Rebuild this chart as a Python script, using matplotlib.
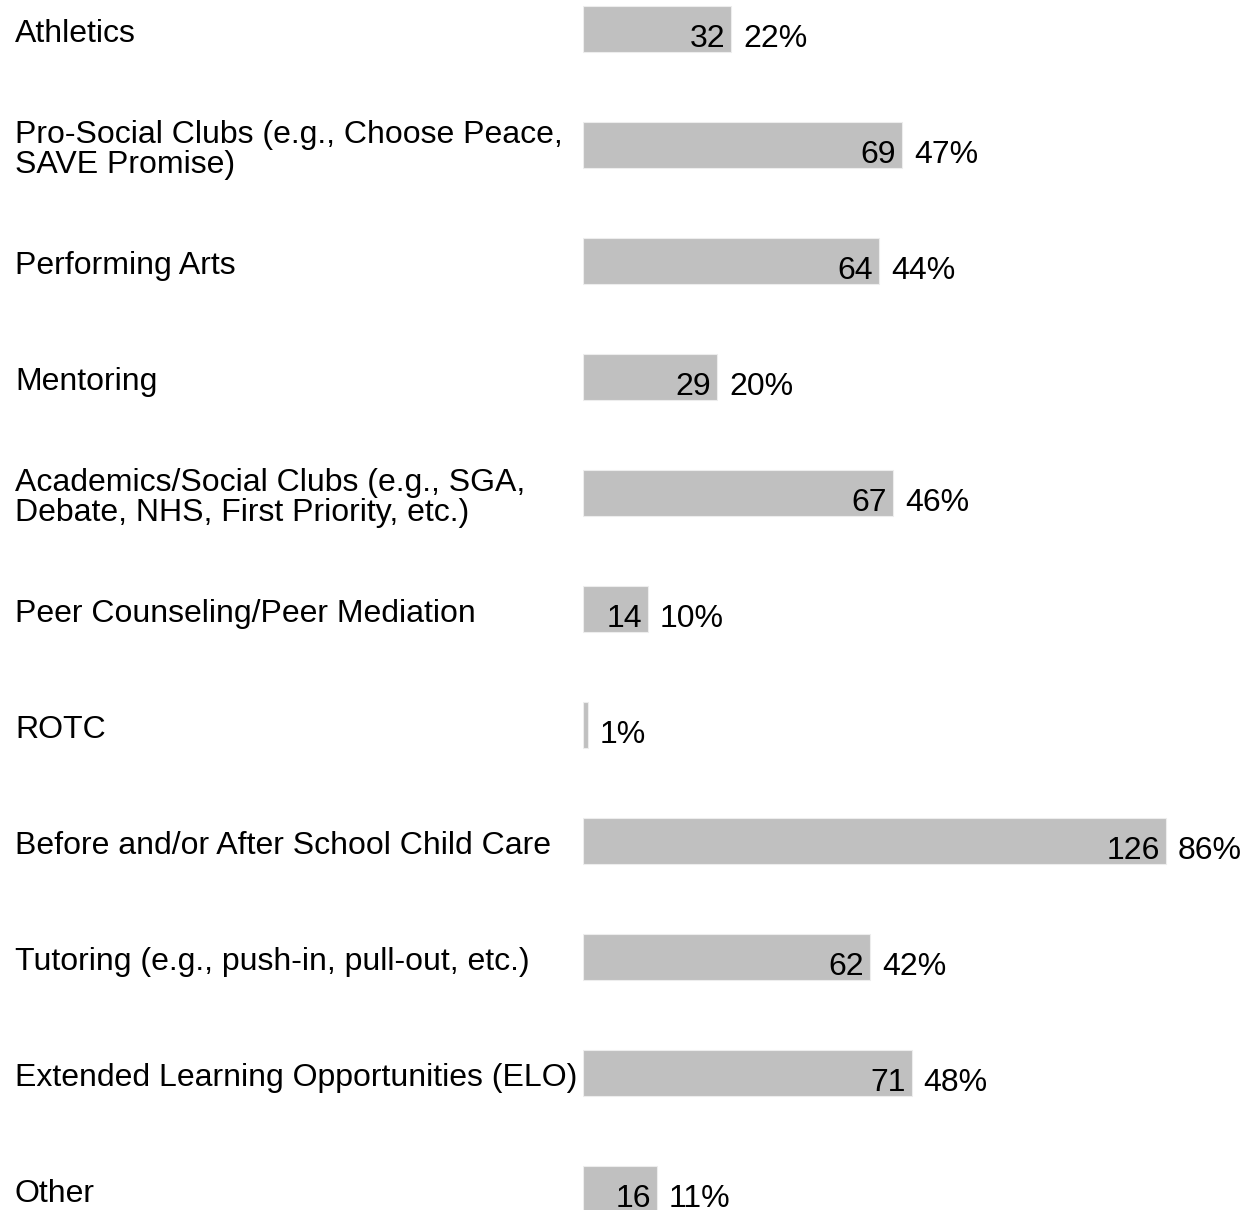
import matplotlib
matplotlib.use("Agg")
import matplotlib.pyplot as plt
from matplotlib.transforms import blended_transform_factory

categories = [
    "Athletics",
    "Pro-Social Clubs (e.g., Choose Peace,\nSAVE Promise)",
    "Performing Arts",
    "Mentoring",
    "Academics/Social Clubs (e.g., SGA,\nDebate, NHS, First Priority, etc.)",
    "Peer Counseling/Peer Mediation",
    "ROTC",
    "Before and/or After School Child Care",
    "Tutoring (e.g., push-in, pull-out, etc.)",
    "Extended Learning Opportunities (ELO)",
    "Other",
]
counts = [32, 69, 64, 29, 67, 14, 1, 126, 62, 71, 16]
percents = [22, 47, 44, 20, 46, 10, 1, 86, 42, 48, 11]

plt.rcParams['font.family'] = ['Liberation Sans', 'DejaVu Sans']
FS = 23

W, H = 1247, 1210
fig = plt.figure(figsize=(W / 100, H / 100), dpi=100)
x0 = 583
ax = fig.add_axes([x0 / W, 0, 1 - x0 / W, 1])
px_per_unit = 583 / 126
ax.set_xlim(0, (W - x0) / px_per_unit)
row = 116
c0 = 29
ax.set_ylim((H - c0) / row, -c0 / row)
ax.axis('off')

ypos = list(range(len(categories)))
ax.barh(ypos, counts, height=46 / row, color='#c0c0c0', edgecolor='#ededed', linewidth=0.8)

trans = blended_transform_factory(fig.transFigure, ax.transData)
for i, (cat, c, p) in enumerate(zip(categories, counts, percents)):
    ax.text(15 / W, i + 0.045, cat, transform=trans, ha='left', va='center',
            fontsize=FS, color='black', linespacing=1.0)
    if c >= 5:
        ax.text(c - 6 / px_per_unit, i + 0.085, str(c), ha='right', va='center',
                fontsize=FS, color='black')
    ax.text(c + 12 / px_per_unit, i + 0.085, f"{p}%", ha='left', va='center',
            fontsize=FS, color='black')

fig.savefig("out.png", dpi=100)
